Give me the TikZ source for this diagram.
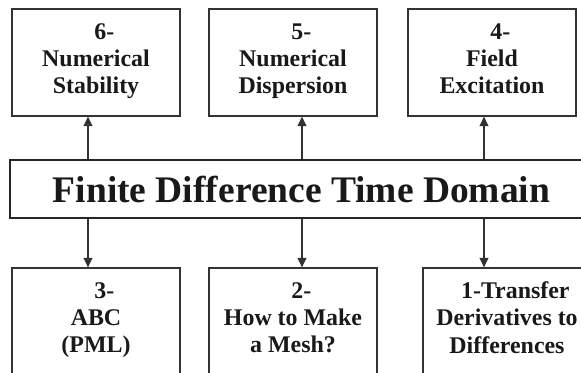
\documentclass[tikz,border=0pt]{standalone}
\usepackage{fontspec}
\setmainfont{Liberation Serif}
\usetikzlibrary{arrows.meta, calc}
\newcommand{\numpad}{\hspace*{0.5cm}}
\tikzset{
    topic/.style={draw=black!80, line width=1.1pt, minimum width=5.04cm, minimum height=3.21cm,
        align=center, text=black!90, inner sep=0pt,
        execute at begin node=\strut, execute at end node=\strut,
        font=\bfseries\fontsize{20.4}{23.2}\selectfont},
    core/.style={draw=black!85, line width=2.5pt, minimum width=17.49cm, minimum height=1.74cm,
        inner sep=0pt, text=black!90, font=\bfseries\fontsize{32}{38}\selectfont},
    fd/.style={>={Triangle[length=8pt, width=7.5pt]}, line width=1.1pt, draw=black!80}
}

\begin{document}
\begin{tikzpicture}[x=0.03cm, y=0.03cm]
        \clip (0,0) rectangle (581,373);
        \fill[white] (0,0) rectangle (581,373);

        \node[topic] (stab) at (96,310.5) {\numpad 6-\\Numerical\\Stability};
        \node[topic] (disp) at (293,310.5) {\numpad 5-\\Numerical\\Dispersion};
        \node[topic] (exci) at (492,310.5) {\numpad 4-\\Field\\Excitation};
        \node[core] (fdtd) at (301.5,184) {Finite Difference Time Domain};
        \node[topic] (abc) at (96,51.5) {\numpad 3-\\ABC\\(PML)};
        \node[topic] (mesh) at (293,51.5) {\numpad 2-\\How to Make\\a Mesh?};
        \node[topic] (deriv) at (507,51.5) {\numpad 1-Transfer\\Derivatives to\\Differences};

        \coordinate (c1) at (88,0);
        \coordinate (c2) at (302,0);
        \coordinate (c3) at (484,0);

        \draw[fd, ->] (fdtd.north -| c1) -- (stab.south -| c1);
        \draw[fd, ->] (fdtd.north -| c2) -- (disp.south -| c2);
        \draw[fd, ->] (fdtd.north -| c3) -- (exci.south -| c3);
        \draw[fd, ->] (fdtd.south -| c1) -- (abc.north -| c1);
        \draw[fd, ->] (fdtd.south -| c2) -- (mesh.north -| c2);
        \draw[fd, ->] (fdtd.south -| c3) -- (deriv.north -| c3);
    \end{tikzpicture}
\end{document}
